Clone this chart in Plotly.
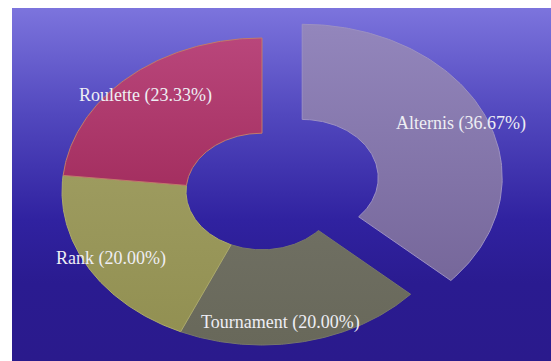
import numpy as np
import plotly.graph_objects as go

# Slice data, clockwise from 12 o'clock
categories = ["Alternis", "Tournament", "Rank", "Roulette"]
shares = [36.67, 20.00, 20.00, 23.33]
pulled = [0.22, 0.0, 0.0, 0.0]

# Styling per slice (top colour, bottom colour, outline)
top_colors = ["#9386BC", "#6F6F62", "#9D9B5F", "#B9467B"]
bottom_colors = ["#76679A", "#68685A", "#929052", "#A42F60"]
edge_colors = ["#9C90C2", "#76766A", "#ACAA6A", "#C07A6A"]
label_nudge = [(0, 0), (-18, 0), (0, 0), (0, 3)]

W, H = 551, 361
CX, CY = 262.0, 191.5   # pie centre (pixels)
RX, RY = 200.0, 153.5   # outer radii of the elliptical pie
HOLE = 0.38
LABEL_R = 0.87

fig = go.Figure()

# Gradient backdrop panel (colorscale runs bottom -> top on screen)
fig.add_trace(go.Scatter(
    x=[12, W, W, 12, 12], y=[8, 8, H, H, 8],
    mode="lines", line=dict(width=0), fill="toself",
    fillgradient=dict(type="vertical", colorscale=[
        [0.0, "#2A1A8C"], [0.22, "#2A1B90"], [0.4, "#3022A0"],
        [0.7, "#5248BE"], [1.0, "#7C74DD"]]),
    hoverinfo="skip", showlegend=False))


def point(theta_deg, r, cx, cy):
    t = np.radians(theta_deg)
    return cx + RX * r * np.sin(t), cy - RY * r * np.cos(t)


total = sum(shares)
start = 0.0
annotations = []
for name, val, pull, c0, c1, ec, (nx, ny) in zip(
        categories, shares, pulled, top_colors, bottom_colors, edge_colors, label_nudge):
    span = 360.0 * val / total
    end = start + span
    mid = start + span / 2
    ox, oy = point(mid, pull, 0.0, 0.0)
    cx, cy = CX + ox, CY + oy
    th = np.linspace(start, end, 120)
    xo, yo = point(th, 1.0, cx, cy)
    xi, yi = point(th[::-1], HOLE, cx, cy)
    xs = np.concatenate([xo, xi, xo[:1]])
    ys = np.concatenate([yo, yi, yo[:1]])
    fig.add_trace(go.Scatter(
        x=xs, y=ys, mode="lines", line=dict(color=ec, width=1),
        fill="toself",
        fillgradient=dict(type="vertical", colorscale=[[0, c1], [1, c0]]),
        name=name, hoverinfo="skip", showlegend=False))
    lx, ly = point(mid, LABEL_R, cx, cy)
    annotations.append(dict(
        x=lx, y=ly, xref="x", yref="y", showarrow=False,
        text=f"{name} ({val:.2f}%)", xshift=nx, yshift=-ny,
        font=dict(family="Liberation Serif", size=18, color="#EEEEF4")))
    start = end

fig.update_layout(
    width=W, height=H,
    margin=dict(l=0, r=0, t=0, b=0),
    paper_bgcolor="white", plot_bgcolor="white",
    xaxis=dict(range=[0, W], visible=False, fixedrange=True),
    yaxis=dict(range=[H, 0], visible=False, fixedrange=True),
    annotations=annotations,
)

fig.write_html("out.html")
